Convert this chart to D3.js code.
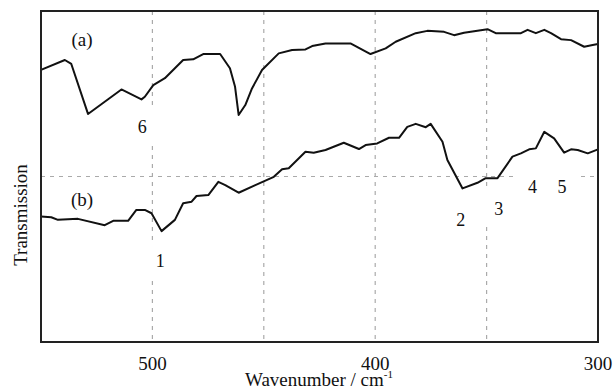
<!DOCTYPE html>
<meta charset="utf-8">
<head>
  <title>Transmission spectra</title>
  <script src="https://cdn.jsdelivr.net/npm/d3@7"></script>
  <style>
    body {margin: 0; background: #fff;}
    text {font-family: "Liberation Serif", "Times New Roman", serif; fill: #111;}
  </style>
</head>
<body>
<div id="chart"></div>
<script>
// wavenumber (cm-1) for curve (a)
var waveA = [550, 539.3, 536.4, 528.9, 513.9, 504.9, 503.4, 499.6, 494.4, 486.2, 481.7, 477.2, 469.6, 465.2, 462.9, 461.3,
  458.3, 455.3, 450.8, 443.3, 437.3, 431.3, 428.3, 422.3, 411.1, 402.1, 395.3, 390.8, 381.8, 376.6, 369.1, 364.6,
  360.1, 349.6, 345.9, 334.6, 331.6, 327.9, 324.1, 321.1, 316.6, 312.1, 306.2, 302.4, 300];
var transA = [82.2, 85.2, 84.0, 68.9, 76.3, 73.3, 74.1, 77.6, 79.7, 85.2, 85.4, 87.0, 87.0, 82.7, 77.1, 68.6,
  71.6, 76.6, 82.2, 87.2, 88.2, 88.4, 89.4, 90.2, 90.2, 87.0, 88.7, 90.7, 93.3, 94.0, 93.7, 92.7,
  93.4, 94.5, 93.3, 93.3, 94.3, 93.3, 94.3, 93.3, 91.5, 91.2, 89.2, 89.7, 90.0];

// curve (b)
var waveB = [550, 545.4, 542.4, 533.4, 521.4, 517.6, 510.9, 507.2, 503.4, 500.4, 495.9, 489.9, 486.2, 482.4, 480.2, 474.9,
  470.4, 467.3, 461.3, 453.8, 445.5, 441.8, 438.8, 431.3, 427.6, 422.3, 414.1, 407.3, 404.3, 399.1, 393.8, 389.3,
  385.6, 381.8, 377.3, 375.1, 369.8, 367.6, 360.8, 354.1, 350.4, 345.1, 338.4, 334.6, 330.9, 327.9, 324.1, 319.7,
  315.2, 312.1, 309.1, 304.6, 300];
var transB = [37.9, 37.7, 36.9, 37.2, 35.3, 36.6, 36.6, 39.9, 39.9, 38.9, 33.5, 36.9, 41.9, 42.4, 44.1, 44.4,
  48.4, 47.4, 45.1, 47.4, 49.9, 52.2, 52.5, 57.5, 57.2, 58.0, 60.2, 58.3, 59.5, 60.0, 61.7, 61.7,
  65.0, 65.9, 64.9, 65.9, 60.5, 55.0, 46.4, 48.1, 49.5, 49.5, 56.0, 57.0, 58.2, 58.5, 63.5, 61.5,
  57.2, 58.2, 58.0, 57.0, 58.2];

var xTickLabels = [500, 400, 300];
var xGrid = [500, 450, 400, 350];
var yGrid = [50];

// curve labels and peak numbers (wavenumber, transmission at text baseline)
var curveLabels = ["(a)", "(b)"];
var curveLabelWave = [531.6, 531.6];
var curveLabelTrans = [89.3, 41.1];
var peakLabels = ["6", "1", "2", "3", "4", "5"];
var peakWave = [504.6, 496.5, 361.6, 344.5, 329.4, 316.2];
var peakTrans = [63.2, 22.6, 35.1, 38.4, 45.1, 45.1];

var width = 614, height = 389;
var margin = {top: 11, right: 16, bottom: 47, left: 41};

var svg = d3.select("#chart").append("svg")
  .attr("width", width)
  .attr("height", height);

var x = d3.scaleLinear().domain([550, 300]).range([margin.left, width - margin.right]);
var y = d3.scaleLinear().domain([0, 100]).range([height - margin.bottom, margin.top]);

// grid lines
svg.selectAll(".vgrid")
  .data(xGrid)
  .enter().append("line")
  .attr("class", "vgrid")
  .attr("x1", d => x(d)).attr("x2", d => x(d))
  .attr("y1", y(100)).attr("y2", y(0))
  .style("stroke", "#aaa")
  .style("stroke-width", 1.2)
  .style("stroke-dasharray", "4,5");

svg.selectAll(".hgrid")
  .data(yGrid)
  .enter().append("line")
  .attr("class", "hgrid")
  .attr("x1", x(550)).attr("x2", x(300))
  .attr("y1", d => y(d)).attr("y2", d => y(d))
  .style("stroke", "#aaa")
  .style("stroke-width", 1.2)
  .style("stroke-dasharray", "4,5");

// white patches under the peak numbers
svg.selectAll(".patch")
  .data(peakLabels)
  .enter().append("rect")
  .attr("class", "patch")
  .attr("x", (d, i) => x(peakWave[i]) - 15)
  .attr("y", (d, i) => y(peakTrans[i]) - 24)
  .attr("width", 30)
  .attr("height", 36)
  .style("fill", "#fff");

var line = d3.line()
  .x(d => x(d[0]))
  .y(d => y(d[1]));

svg.append("path")
  .datum(waveA.map((w, i) => [w, transA[i]]))
  .attr("d", line)
  .style("fill", "none")
  .style("stroke", "#111")
  .style("stroke-width", 2)
  .style("stroke-linejoin", "round");

svg.append("path")
  .datum(waveB.map((w, i) => [w, transB[i]]))
  .attr("d", line)
  .style("fill", "none")
  .style("stroke", "#111")
  .style("stroke-width", 2)
  .style("stroke-linejoin", "round");

// frame
svg.append("rect")
  .attr("x", x(550)).attr("y", y(100))
  .attr("width", x(300) - x(550))
  .attr("height", y(0) - y(100))
  .style("fill", "none")
  .style("stroke", "#222")
  .style("stroke-width", 2);

// x tick labels
svg.selectAll(".xtick")
  .data(xTickLabels)
  .enter().append("text")
  .attr("class", "xtick")
  .attr("x", d => x(d))
  .attr("y", 370)
  .attr("text-anchor", "middle")
  .style("font-size", "19px")
  .text(d => d);

// axis titles
var xt = svg.append("text")
  .attr("x", 319)
  .attr("y", 386)
  .attr("text-anchor", "middle")
  .style("font-size", "19px");
xt.append("tspan").text("Wavenumber / cm");
xt.append("tspan").attr("dy", -8).style("font-size", "11px").text("-1");

svg.append("text")
  .attr("transform", "translate(27,215) rotate(-90)")
  .attr("text-anchor", "middle")
  .style("font-size", "19px")
  .text("Transmission");

svg.selectAll(".clabel")
  .data(curveLabels)
  .enter().append("text")
  .attr("class", "clabel")
  .attr("x", (d, i) => x(curveLabelWave[i]))
  .attr("y", (d, i) => y(curveLabelTrans[i]))
  .attr("text-anchor", "middle")
  .style("font-size", "19px")
  .text(d => d);

svg.selectAll(".plabel")
  .data(peakLabels)
  .enter().append("text")
  .attr("class", "plabel")
  .attr("x", (d, i) => x(peakWave[i]))
  .attr("y", (d, i) => y(peakTrans[i]))
  .attr("text-anchor", "middle")
  .style("font-size", "18px")
  .text(d => d);
</script>
</body>
